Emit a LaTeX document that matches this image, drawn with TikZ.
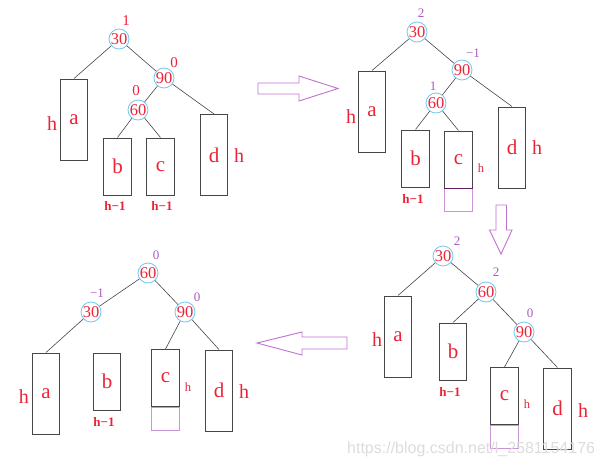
\documentclass[tikz,border=0pt]{standalone}
\usepackage{fontspec}
\setmainfont{Liberation Serif}
\newfontfamily\wmfont{Liberation Sans}
\definecolor{tred}{RGB}{236,34,54}
\definecolor{tpurp}{RGB}{168,92,192}
\definecolor{apurp}{RGB}{192,112,206}
\definecolor{lpurp}{RGB}{200,150,214}
\definecolor{dpurp}{RGB}{100,30,100}
\definecolor{cblue}{RGB}{110,200,240}
\definecolor{boxgray}{RGB}{70,70,70}
\definecolor{wmgray}{RGB}{220,220,220}
\tikzset{
  circ/.style={circle,draw=cblue,line width=0.8pt,minimum size=20pt,inner sep=0pt,text=tred,font=\fontsize{16.5}{16.5}\selectfont},
  box/.style={rectangle,draw=boxgray,line width=1pt,inner sep=0pt,minimum width=27.5pt,text=tred,font=\fontsize{21}{21}\selectfont},
  tallbox/.style={box,minimum height=81pt},
  shortbox/.style={box,minimum height=57pt},
  pbox/.style={rectangle,draw=lpurp,line width=0.9pt,inner sep=0pt,minimum width=27.5pt,minimum height=23pt},
  rlbl/.style={text=tred,inner sep=0pt,font=\fontsize{15}{15}\selectfont},
  plbl/.style={text=tpurp,inner sep=0pt,font=\fontsize{13}{13}\selectfont},
  hbig/.style={text=tred,inner sep=0pt,font=\fontsize{20}{20}\selectfont},
  hsmall/.style={text=tred,inner sep=0pt,font=\fontsize{12.5}{12.5}\selectfont},
  hm/.style={text=tred,inner sep=0pt,font=\bfseries\fontsize{13}{13}\selectfont},
  edge/.style={draw=boxgray,line width=0.6pt},
  bigarrow/.style={draw=apurp,line width=0.9pt}
}
\begin{document}
\begin{tikzpicture}[x=1pt,y=-1pt]
\useasboundingbox (0,0) rectangle (603,466);

% ===== top-left tree =====
\node[circ] (A30) at (119,39) {30};
\node[circ] (A90) at (164,78) {90};
\node[circ] (A60) at (138,110) {60};
\node[rlbl] (Al30) at (126,21) {1};
\node[rlbl] (Al90) at (174,63) {0};
\node[rlbl] (Al60) at (136,91) {0};
\node[tallbox] (Aa) at (74,119.5) {a};
\node[shortbox] (Ab) at (117.5,166.5) {b};
\node[shortbox] (Ac) at (160.5,166.5) {c};
\node[tallbox] (Ad) at (214,155) {d};
\node[hbig] (Aha) at (52,124) {h};
\node[hbig] (Ahd) at (239,156) {h};
\node[hm] (Ahb) at (115,206) {h−1};
\node[hm] (Ahc) at (162,206) {h−1};
\draw[edge] (A30) -- (Aa.north);
\draw[edge] (A30) -- (A90);
\draw[edge] (A90) -- (A60);
\draw[edge] (A60) -- (Ab.north);
\draw[edge] (A60) -- (Ac.north);
\draw[edge] (A90) -- (Ad.north);

% ===== top-right tree =====
\node[circ] (B30) at (417,32) {30};
\node[circ] (B90) at (462,70) {90};
\node[circ] (B60) at (436,103) {60};
\node[plbl] (Bl30) at (421,13) {2};
\node[plbl] (Bl90) at (473,53) {−1};
\node[plbl] (Bl60) at (433,86) {1};
\node[tallbox] (Ba) at (372,111.5) {a};
\node[shortbox] (Bb) at (415.5,158.5) {b};
\node[pbox] (Bp) at (458.5,199.5) {};
\node[shortbox] (Bc) at (458.5,159.5) {c};
\draw[dpurp,line width=1pt] (Bc.south west) -- (Bc.south east);
\node[tallbox] (Bd) at (512,147.5) {d};
\node[hbig] (Bha) at (351,117) {h};
\node[hbig] (Bhd) at (537,148) {h};
\node[hsmall] (Bhc) at (481,168) {h};
\node[hm] (Bhb) at (413,199) {h−1};
\draw[edge] (B30) -- (Ba.north);
\draw[edge] (B30) -- (B90);
\draw[edge] (B90) -- (B60);
\draw[edge] (B60) -- (Bb.north);
\draw[edge] (B60) -- (Bc.north);
\draw[edge] (B90) -- (Bd.north);

% ===== bottom-right tree =====
\node[circ] (C30) at (443,256) {30};
\node[circ] (C60) at (486,292) {60};
\node[circ] (C90) at (524,332) {90};
\node[plbl] (Cl30) at (457,241) {2};
\node[plbl] (Cl60) at (496,272) {2};
\node[plbl] (Cl90) at (530,313) {0};
\node[tallbox] (Ca) at (398,336.5) {a};
\node[shortbox] (Cb) at (453,351.5) {b};
\node[pbox] (Cp) at (504.5,436.5) {};
\node[shortbox] (Cc) at (504.5,396) {c};
\node[tallbox] (Cd) at (557.5,408.5) {d};
\node[hbig] (Cha) at (377,340) {h};
\node[hbig] (Chd) at (583,411) {h};
\node[hsmall] (Chc) at (527,404) {h};
\node[hm] (Chb) at (450,392) {h−1};
\draw[edge] (C30) -- (Ca.north);
\draw[edge] (C30) -- (C60);
\draw[edge] (C60) -- (Cb.north);
\draw[edge] (C60) -- (C90);
\draw[edge] (C90) -- (Cc.north);
\draw[edge] (C90) -- (Cd.north);

% ===== bottom-left tree =====
\node[circ] (D60) at (148,273) {60};
\node[circ] (D30) at (91,312) {30};
\node[circ] (D90) at (185,312) {90};
\node[plbl] (Dl60) at (156,255) {0};
\node[plbl] (Dl30) at (97,293) {−1};
\node[plbl] (Dl90) at (197,297) {0};
\node[tallbox] (Da) at (46,393.5) {a};
\node[shortbox] (Db) at (107,381.5) {b};
\node[pbox] (Dp) at (165.5,418.5) {};
\node[shortbox] (Dc) at (165.5,378) {c};
\node[tallbox] (Dd) at (219,390.5) {d};
\node[hbig] (Dha) at (24,397) {h};
\node[hbig] (Dhd) at (244,392) {h};
\node[hsmall] (Dhc) at (188,387) {h};
\node[hm] (Dhb) at (104,422) {h−1};
\draw[edge] (D60) -- (D30);
\draw[edge] (D60) -- (D90);
\draw[edge] (D30) -- (Da.north);
\draw[edge] (D90) -- (Dc.north);
\draw[edge] (D90) -- (Dd.north);

% ===== big arrows =====
\draw[bigarrow] (258,83) -- (299,83) -- (299,76) -- (338,88.5) -- (299,101) -- (299,94) -- (258,94) -- cycle;
\draw[bigarrow] (496,205) -- (506.5,205) -- (506.5,230) -- (512,230) -- (501,254) -- (489.5,230) -- (496,230) -- cycle;
\draw[bigarrow] (347,337) -- (302,337) -- (302,332) -- (257,343) -- (302,355) -- (302,349) -- (347,349) -- cycle;

% watermark (overlay)
\node[anchor=base west,text=wmgray,inner sep=0pt,font=\wmfont\fontsize{16}{16}\selectfont] (wm) at (347,453) {https://blog.csdn.net/l\_2581154176};
\end{tikzpicture}
\end{document}
